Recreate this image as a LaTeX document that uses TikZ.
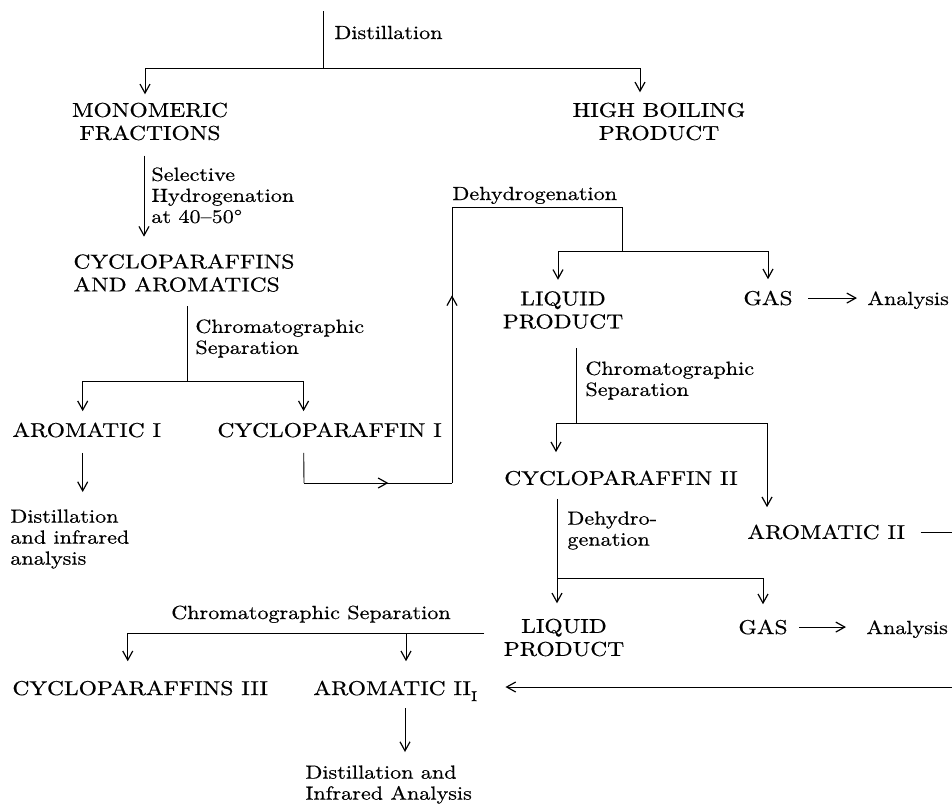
\documentclass[tikz,border=0pt]{standalone}
\usepackage{fontspec}
\newfontfamily\capfont{lmroman10-regular.otf}[FakeStretch=1.175,FakeBold=0.5]
\newfontfamily\labfont{lmroman10-regular.otf}[FakeStretch=1.165,FakeBold=0.5]
\usetikzlibrary{arrows.meta,decorations.markings}
\begin{document}
\begin{tikzpicture}[x=1pt,y=-1pt,
  line width=0.9pt,
  capnode/.style={font=\capfont\fontsize{20}{23}\selectfont, inner sep=0pt, align=center},
  capleft/.style={capnode, align=left},
  labnode/.style={font=\labfont\fontsize{19}{21}\selectfont, inner sep=0pt, align=left},
  arr/.style={-{Straight Barb[length=9pt,width=10pt,line width=1.2pt]}},
  midarr/.style={postaction={decorate}, decoration={markings, mark=at position #1 with {\arrow{Straight Barb[length=9pt,width=10pt,line width=1.2pt]}}}},
]
\useasboundingbox (0,0) rectangle (952,804);

% nodes
\node[capnode] (mono) at (150,121.5) {MONOMERIC\\FRACTIONS};
\node[capnode] (high) at (659,121.5) {HIGH BOILING\\PRODUCT};
\node[capleft, anchor=west] (cycar) at (73,273) {CYCLOPARAFFINS\\AND AROMATICS};
\node[capnode, anchor=west] (arom1) at (12,430) {AROMATIC I};
\node[capnode, anchor=west] (cyc1) at (217,430) {CYCLOPARAFFIN I};
\node[labnode, anchor=north west] (dinf1) at (10,509) {Distillation\\and infrared\\analysis};
\node[capnode] (liq1) at (563,310) {LIQUID\\PRODUCT};
\node[capnode, anchor=base] (gas1) at (768,305) {GAS};
\node[labnode, anchor=base west] (an1) at (867,305) {Analysis};
\node[capnode] (cyc2) at (621,478) {CYCLOPARAFFIN II};
\node[capnode, anchor=west] (arom2) at (747,532) {AROMATIC II};
\node[capnode] (liq2) at (564,637.5) {LIQUID\\PRODUCT};
\node[capnode, anchor=base] (gas2) at (763,634) {GAS};
\node[labnode, anchor=base west] (an2) at (866,634) {Analysis};
\node[capnode, anchor=base west] (cyc3) at (12,695) {CYCLOPARAFFINS III};
\node[capnode, anchor=base west] (arom3) at (313,695) {AROMATIC II\raisebox{-6pt}{\fontsize{14}{14}\selectfont I}};
\node[labnode, anchor=north west] (dinf2) at (305,765) {Distillation and\\Infrared Analysis};

% labels
\node[labnode, anchor=base west] (ldist) at (334,39) {Distillation};
\node[labnode, anchor=north west] (lsel) at (151,167) {Selective\\Hydrogenation\\at 40–50°};
\node[labnode, anchor=north west] (lchr1) at (195,319) {Chromatographic\\Separation};
\node[labnode, anchor=base west] (ldeh1) at (452,200) {Dehydrogenation};
\node[labnode, anchor=north west] (lchr2) at (585,361) {Chromatographic\\Separation};
\node[labnode, anchor=north west] (ldeh2) at (567,511) {Dehydro-\\genation};
\node[labnode, anchor=base] (lchr3) at (311,619) {Chromatographic Separation};

% coordinates
\coordinate (src) at (323,11);
\coordinate (j0) at (323,68);
\coordinate (k1) at (187,381);
\coordinate (p1) at (304,483);
\coordinate (p2) at (452,483);
\coordinate (p3) at (452,207);
\coordinate (p4) at (622,207);
\coordinate (j2) at (622,251);
\coordinate (k2) at (576,423);
\coordinate (eR1) at (952,532);
\coordinate (k3) at (557,578);
\coordinate (k4) at (484,633);
\coordinate (eR2) at (952,687);

% connectors
\draw (src) -- (j0);
\draw[arr, shorten >=8pt] (j0) -| ([xshift=-5pt]mono.north);
\draw[arr, shorten >=10pt] (j0) -| ([xshift=-19pt]high.north);

\draw[arr, shorten <=15pt, shorten >=17pt] ([xshift=-6pt]mono.south) -- ([xshift=-6pt]mono.south |- cycar.north);

\draw[shorten <=14pt] (cycar.south -| k1) -- (k1);
\draw[arr, shorten >=11pt] (k1) -| ([xshift=-4pt]arom1.north);
\draw[arr, shorten >=11pt] (k1) -| ([xshift=-26pt]cyc1.north);

\draw[arr, shorten <=15pt, shorten >=17pt] ([xshift=-4pt]arom1.south) -- ([xshift=-4pt]arom1.south |- dinf1.north);

\draw[shorten <=15pt] ([xshift=-26pt]cyc1.south) -- (p1);
\draw[midarr=0.57] (p1) -- (p2);
\draw[midarr=0.68] (p2) -- (p3);
\draw (p3) -- (p4) -- (j2);
\draw[arr, shorten >=11pt] (j2) -| ([xshift=-5pt]liq1.north);
\draw[arr, shorten >=11pt] (j2) -| (gas1.north);
\draw[arr, shorten <=15pt, shorten >=10pt] (gas1.east) -- (gas1.east -| an1.west);

\draw[shorten <=19pt] (liq1.south -| k2) -- (k2);
\draw[arr, shorten >=18pt] (k2) -| ([xshift=-65pt]cyc2.north);
\draw[arr, shorten >=17pt] (k2) -| ([xshift=20pt]arom2.north west);
\draw[shorten <=15pt] (arom2.east) -- (eR1);

\draw[arr, shorten <=13pt, shorten >=15pt] ([xshift=-64pt]cyc2.south) -- ([xshift=-64pt]cyc2.south |- liq2.north);
\draw[arr, shorten >=15pt] (k3) -| (gas2.north);
\draw[arr, shorten <=11pt, shorten >=20pt] (gas2.east) -- (gas2.east -| an2.west);

\draw[arr, shorten >=19pt] (k4) -| ([xshift=-12.5pt]cyc3.north);
\draw[arr, shorten >=19pt] (k4) -| ([xshift=93pt]arom3.north west);
\draw[arr, shorten <=13pt, shorten >=13pt] ([xshift=92pt]arom3.base west) -- ([xshift=92pt]arom3.base west |- dinf2.north);
\draw[arr, shorten >=28pt] (eR2) -- (eR2 -| arom3.east);
\end{tikzpicture}
\end{document}
